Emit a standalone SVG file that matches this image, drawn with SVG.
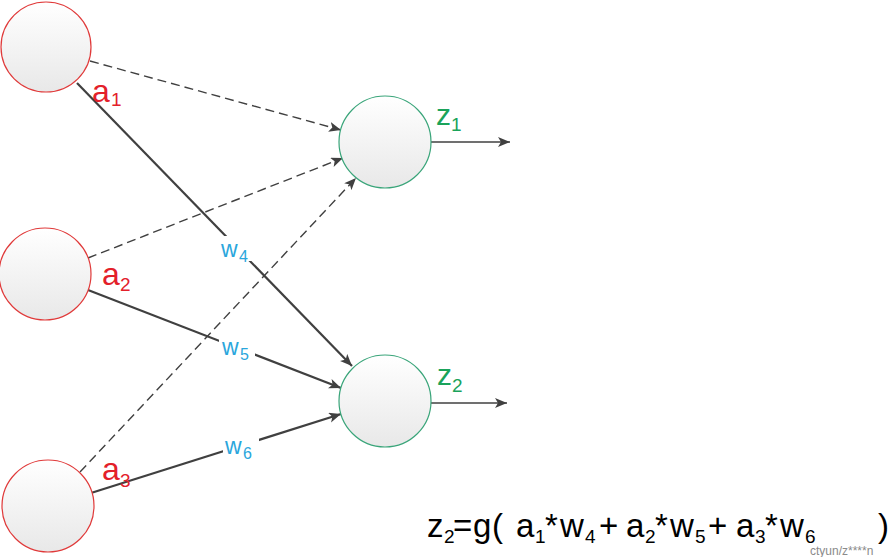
<svg xmlns="http://www.w3.org/2000/svg" width="896" height="557" viewBox="0 0 896 557">
<defs>
<linearGradient id="g" x1="0" y1="0" x2="0" y2="1">
<stop offset="0" stop-color="#ffffff"/>
<stop offset="1" stop-color="#e8e8e8"/>
</linearGradient>
<marker id="ar" markerUnits="userSpaceOnUse" markerWidth="13" markerHeight="11" refX="12" refY="5" orient="auto">
<path d="M0,0 L12,5 L0,10 L3,5 Z" fill="#404040"/>
</marker>
<style>
.in{fill:url(#g);stroke:#e03a3a;stroke-width:1.2}
.out{fill:url(#g);stroke:#3aa57a;stroke-width:1.2}
.sol{stroke:#404040;stroke-width:2.2;fill:none}
.das{stroke:#404040;stroke-width:1.4;stroke-dasharray:9,5;fill:none}
.t{font-family:"Liberation Sans",Arial,sans-serif}
.red{fill:#e3202a}
.grn{fill:#1aa35a}
.blu{fill:#2aa6dc}
.bg{fill:#ffffff}
.sub{font-size:19px}
</style>
</defs>
<rect width="896" height="557" fill="#ffffff"/>
<g id="connectors">
<line class="das" x1="90" y1="61" x2="341" y2="130" marker-end="url(#ar)"/>
<line class="das" x1="88" y1="258" x2="343" y2="158" marker-end="url(#ar)"/>
<line class="das" x1="80" y1="472" x2="356" y2="178" marker-end="url(#ar)"/>
<line class="sol" x1="77" y1="83" x2="352" y2="366" marker-end="url(#ar)"/>
<line class="sol" x1="88" y1="290" x2="341" y2="388" marker-end="url(#ar)"/>
<line class="sol" x1="91" y1="493" x2="341" y2="414" marker-end="url(#ar)"/>
<line class="sol" style="stroke-width:1.6" x1="431" y1="142" x2="510" y2="142" marker-end="url(#ar)"/>
<line class="sol" style="stroke-width:1.6" x1="431" y1="403" x2="507" y2="403" marker-end="url(#ar)"/>
</g>
<g id="a1"><circle class="in" cx="46" cy="47" r="45"/></g>
<g id="a2"><circle class="in" cx="45" cy="274" r="46"/></g>
<g id="a3"><circle class="in" cx="48" cy="506" r="46"/></g>
<g id="z1"><circle class="out" cx="385" cy="142" r="46"/></g>
<g id="z2"><circle class="out" cx="385" cy="401" r="46"/></g>
<g id="labels">
<text class="t red" x="92" y="102" font-size="32">a<tspan font-size="19" x="111" y="106">1</tspan></text>
<text class="t red" x="102" y="285" font-size="32">a<tspan font-size="19" x="120" y="291">2</tspan></text>
<text class="t red" x="102" y="480" font-size="32">a<tspan font-size="19" x="120" y="487">3</tspan></text>
<text class="t grn" x="436" y="125" font-size="30">z<tspan font-size="19" x="451" y="131">1</tspan></text>
<text class="t grn" x="437" y="385" font-size="30">z<tspan font-size="19" x="452" y="392">2</tspan></text>
<rect class="bg" x="219" y="236" width="34" height="25"/>
<text class="t blu" x="221" y="257" font-size="23">w<tspan font-size="16" x="239" y="262">4</tspan></text>
<rect class="bg" x="219" y="336" width="36" height="24"/>
<text class="t blu" x="222" y="355" font-size="23">w<tspan font-size="16" x="240" y="360">5</tspan></text>
<rect class="bg" x="223" y="436" width="36" height="24"/>
<text class="t blu" x="225" y="454" font-size="23">w<tspan font-size="16" x="243" y="459">6</tspan></text>
</g>
<g id="formula">
<text class="t" fill="#000000" font-size="33" y="537"><tspan x="427">z</tspan><tspan class="sub" x="444" y="543">2</tspan><tspan x="453" y="537">=</tspan><tspan x="473">g</tspan><tspan x="492">(</tspan><tspan x="516">a</tspan><tspan class="sub" x="535" y="543">1</tspan><tspan x="545" y="537">*</tspan><tspan x="560">w</tspan><tspan class="sub" x="585" y="543">4</tspan><tspan x="599" y="537">+</tspan><tspan x="626">a</tspan><tspan class="sub" x="645" y="543">2</tspan><tspan x="655" y="537">*</tspan><tspan x="670">w</tspan><tspan class="sub" x="695" y="543">5</tspan><tspan x="708" y="537">+</tspan><tspan x="736">a</tspan><tspan class="sub" x="755" y="543">3</tspan><tspan x="765" y="537">*</tspan><tspan x="780">w</tspan><tspan class="sub" x="805" y="543">6</tspan><tspan x="878" y="537">)</tspan></text>
<text class="t" fill="#8a8a8a" font-size="12" x="810" y="555">ctyun/z****n</text>
</g>
</svg>
